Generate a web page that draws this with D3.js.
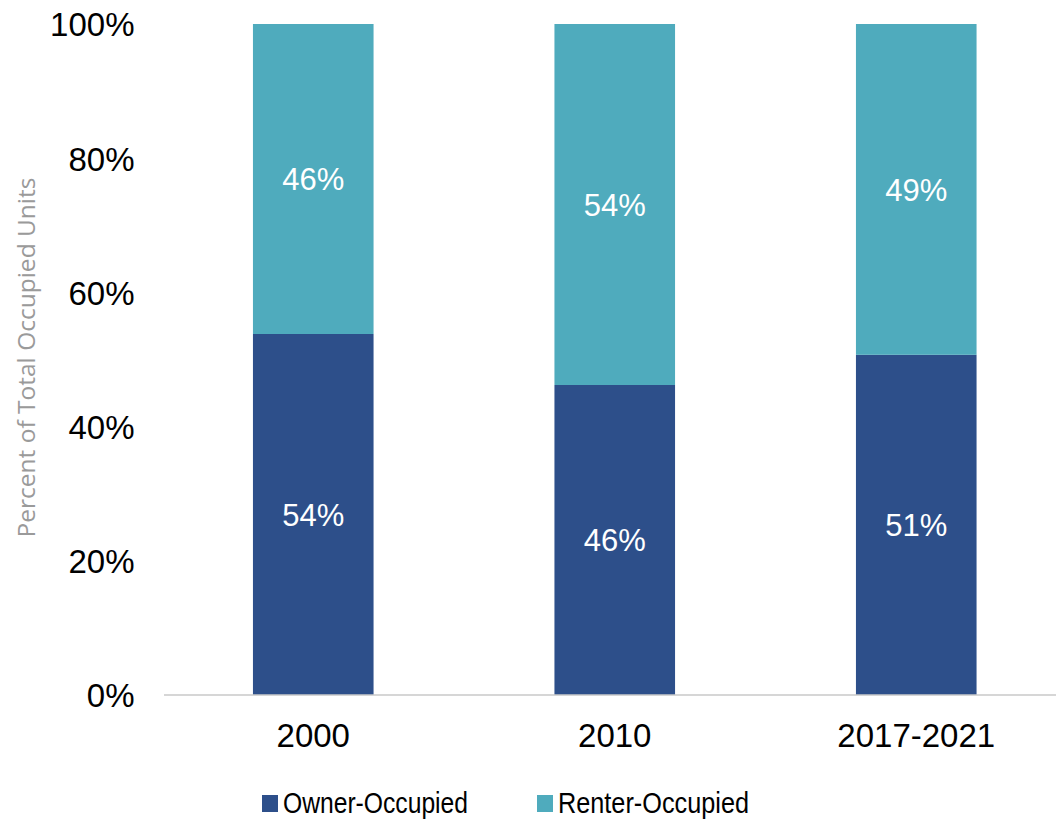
<!DOCTYPE html>
<html>
<head>
<meta charset="utf-8">
<script src="https://cdn.jsdelivr.net/npm/d3@7"></script>
<style>
  html, body { margin: 0; padding: 0; background: #fff; }
  svg { display: block; }
  .tick-lbl { font-family: "Liberation Sans", Arial, sans-serif; fill: #000; }
</style>
</head>
<body>
<svg id="chart" width="1056" height="821"></svg>
<script>
// ---------- Data ----------
const periods = ["2000", "2010", "2017-2021"];
const ownerShare  = [53.8, 46.2, 50.7];
const renterShare = [46.2, 53.8, 49.3];
const ownerLabels  = ["54%", "46%", "51%"];
const renterLabels = ["46%", "54%", "49%"];
const yTicks = [0, 20, 40, 60, 80, 100];
const seriesNames = ["Owner-Occupied", "Renter-Occupied"];
const seriesColors = ["#2d4f8a", "#4fabbd"];

// ---------- Layout ----------
const svg = d3.select("#chart");
const W = 1056, H = 821;
const M = { t: 24, b: 126, l: 162.5, r: -11 };

const x = d3.scaleBand().domain(periods)
  .range([M.l, W - M.r]).paddingInner(0.6).paddingOuter(0.3);
const y = d3.scaleLinear().domain([0, 100]).range([H - M.b, M.t]);

// y tick labels (no axis line)
const yAxis = svg.append("g").attr("transform", `translate(${M.l - 28},0)`)
  .call(d3.axisLeft(y).tickValues(yTicks).tickSize(0).tickPadding(0).tickFormat(d => d + "%"));
yAxis.select(".domain").remove();
yAxis.selectAll("text").attr("class", "tick-lbl").attr("font-size", 33).attr("dy", "0.36em");

// y title
svg.append("text")
  .attr("transform", `translate(35,${(y(0) + y(100)) / 2 - 2}) rotate(-90)`)
  .attr("text-anchor", "middle")
  .attr("font-family", "'Open Sans', sans-serif")
  .attr("font-size", 24.5)
  .attr("fill", "#9a9a9a")
  .text("Percent of Total Occupied Units");

// stacked bars
const rows = periods.map((p, i) => ({ p, owner: ownerShare[i], renter: renterShare[i], ol: ownerLabels[i], rl: renterLabels[i] }));
const stack = d3.stack().keys(["owner", "renter"])(rows);

stack.forEach((layer, si) => {
  svg.append("g").selectAll("rect").data(layer).enter().append("rect")
    .attr("x", d => x(d.data.p))
    .attr("width", x.bandwidth())
    .attr("y", d => y(d[1]))
    .attr("height", d => y(d[0]) - y(d[1]))
    .attr("fill", seriesColors[si]);

  svg.append("g").selectAll("text").data(layer).enter().append("text")
    .attr("x", d => x(d.data.p) + x.bandwidth() / 2)
    .attr("y", d => (y(d[0]) + y(d[1])) / 2)
    .attr("dy", "0.36em")
    .attr("text-anchor", "middle")
    .attr("font-family", "'Liberation Sans', Arial, sans-serif")
    .attr("font-size", 31)
    .attr("fill", "#fff")
    .text(d => si === 0 ? d.data.ol : d.data.rl);
});

// x axis
const xAxis = svg.append("g").attr("transform", `translate(0,${y(0)})`)
  .call(d3.axisBottom(x).tickSize(0).tickPadding(0));
xAxis.select(".domain").remove();
xAxis.append("line").attr("x1", 164).attr("x2", W).attr("y1", 0).attr("y2", 0)
  .attr("stroke", "#c8c8c8").attr("stroke-width", 1.5);
xAxis.selectAll(".tick text").attr("class", "tick-lbl").attr("font-size", 33).attr("dy", "1.58em");

// legend
const legendX = [262, 537];
const legend = svg.append("g").selectAll("g").data(seriesNames).enter().append("g")
  .attr("transform", (d, i) => `translate(${legendX[i]},795)`);
legend.append("rect").attr("width", 16).attr("height", 17).attr("fill", (d, i) => seriesColors[i]);
legend.append("text")
  .attr("x", 21).attr("y", 18)
  .attr("font-family", "'Liberation Sans', Arial, sans-serif")
  .attr("font-size", 30)
  .attr("textLength", (d, i) => i === 0 ? 185 : 191)
  .attr("lengthAdjust", "spacingAndGlyphs")
  .text(d => d);
</script>
</body>
</html>
